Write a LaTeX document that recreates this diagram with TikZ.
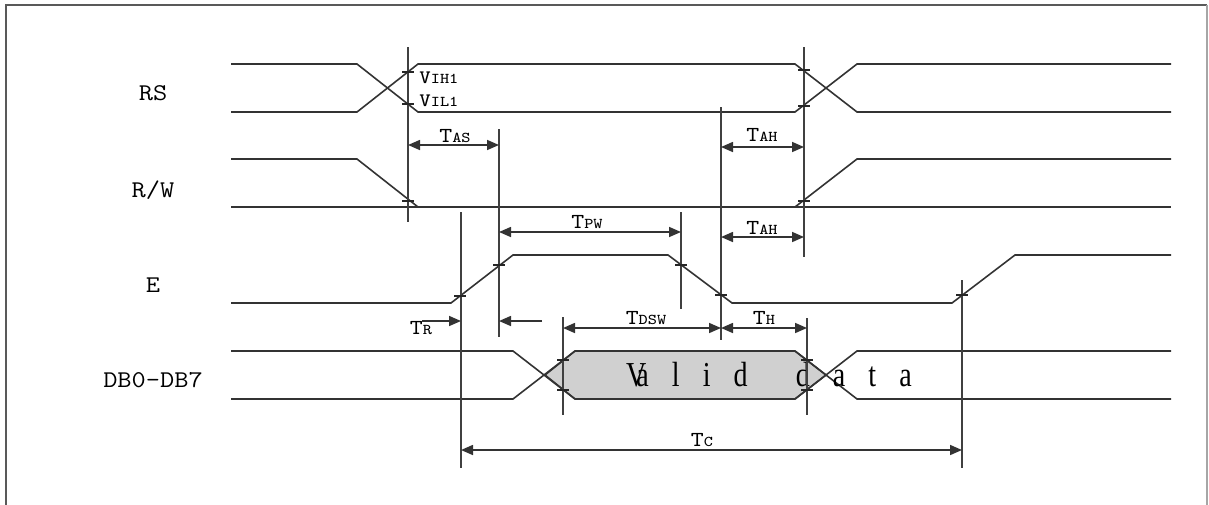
\documentclass[tikz,border=0pt]{standalone}
\usepackage{fontspec}
\setmainfont{Liberation Serif}
\newfontfamily\sigfont[FakeStretch=1.15]{Latin Modern Mono}
\newfontfamily\validfont[FakeStretch=0.8,LetterSpace=66]{Liberation Serif}
\usetikzlibrary{arrows.meta}
\definecolor{validgray}{RGB}{208,208,208}
\newcommand\tsub[1]{{\fontsize{7.5}{8}\selectfont #1}}

\begin{document}
\begin{tikzpicture}[x=0.5pt,y=-0.5pt,
  wave/.style={line width=0.8pt,black!80},
  guide/.style={line width=0.8pt,black!75},
  tic/.style={line width=0.7pt,black!85},
  dimarr/.style={line width=0.8pt,black!80,{Triangle[length=6pt,width=5pt]}-{Triangle[length=6pt,width=5pt]}},
  onearr/.style={line width=0.8pt,black!80,-{Triangle[length=6pt,width=5pt]}},
  siglabel/.style={font=\sigfont\fontsize{12}{14}\selectfont,inner sep=0pt},
  tlabel/.style={font=\sigfont\fontsize{10.7}{12}\selectfont,inner sep=0pt}]
\useasboundingbox (0,0) rectangle (1209,504);
\draw[line width=1.2pt,black!65] (6,512)--(6,5)--(1207,5);
\draw[line width=1.2pt,black!35] (1207,5)--(1207,512);
%
\pgfmathsetmacro{\xL}{231}
\pgfmathsetmacro{\xR}{1171}
%
\node[siglabel] (rs) at (153,93) {RS};
\node[siglabel] (rw) at (153,190) {R/W};
\node[siglabel] (en) at (153,285) {E};
\node[siglabel] (db) at (153,380) {DB0-DB7};
%
\draw[wave] (\xL,64)--(357,64)--(418,112)--(795,112)--(857,64)--(\xR,64);
\draw[wave] (\xL,112)--(357,112)--(418,64)--(795,64)--(857,112)--(\xR,112);
\draw[wave] (\xL,159)--(357,159)--(418,207);
\draw[wave] (\xL,207)--(\xR,207);
\draw[wave] (795,207)--(857,159)--(\xR,159);
\draw[wave] (\xL,303)--(451,303)--(513,255)--(668,255)--(732,303)--(952,303)--(1015,255)--(\xR,255);
\draw[wave,fill=validgray] (545,375)--(575,351)--(795,351)--(826,375)--(795,399)--(575,399)--cycle;
\draw[wave] (\xL,351)--(513,351)--(575,399);
\draw[wave] (\xL,399)--(513,399)--(575,351);
\draw[wave] (795,351)--(857,399)--(\xR,399);
\draw[wave] (795,399)--(857,351)--(\xR,351);
\node[font=\validfont\fontsize{17.5}{18}\selectfont,inner sep=0pt] (valid) at (769,375) {V\kern-5pt alid\hspace{9pt} data};
%
\draw[guide] (408,47)--(408,222);
\draw[guide] (499,129)--(499,337);
\draw[guide] (461,212)--(461,468);
\draw[guide] (681,212)--(681,309);
\draw[guide] (721,107)--(721,340);
\draw[guide] (804,47)--(804,257);
\draw[guide] (563,317)--(563,415);
\draw[guide] (807,318)--(807,415);
\draw[guide] (962,280)--(962,468);
\foreach \x/\y in {408/72,408/104,408/201,804/70,804/106,804/201,
  460/296,499/265,681/265,721/295,962/295,563/360,563/390,807/360,807/390}
  \draw[tic] (\x-6,\y)--(\x+6,\y);
%
\node[anchor=west,font=\sigfont\fontsize{9.5}{11}\selectfont,inner sep=0pt] (vih) at (419,78) {V\tsub{IH1}};
\node[anchor=west,font=\sigfont\fontsize{9.5}{11}\selectfont,inner sep=0pt] (vil) at (419,101) {V\tsub{IL1}};
%
\draw[dimarr] (408,145)--(499,145);
\node[tlabel] (tas) at (455,136) {T\tsub{AS}};
\draw[dimarr] (721,147)--(804,147);
\node[tlabel] (tah) at (762,135) {T\tsub{AH}};
\draw[dimarr] (499,232)--(681,232);
\node[tlabel] (tpw) at (587,222) {T\tsub{PW}};
\draw[dimarr] (721,237)--(804,237);
\node[tlabel] (tahb) at (762,228) {T\tsub{AH}};
\draw[onearr] (422,321)--(461,321);
\draw[onearr] (542,321)--(499,321);
\node[tlabel] (tr) at (421,328) {T\tsub{R}};
\draw[dimarr] (563,328)--(721,328);
\node[tlabel] (tdsw) at (646,318) {T\tsub{DSW}};
\draw[dimarr] (721,328)--(807,328);
\node[tlabel] (th) at (764,318) {T\tsub{H}};
\draw[dimarr] (461,450)--(962,450);
\node[tlabel] (tc) at (702,440) {T\tsub{C}};
\end{tikzpicture}
\end{document}
